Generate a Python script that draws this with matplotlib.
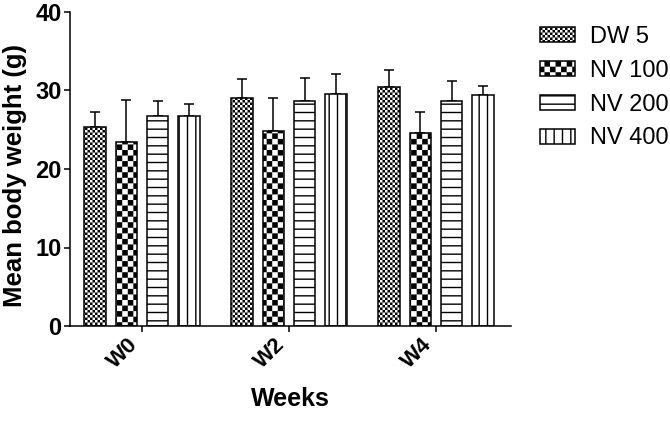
import numpy as np
import matplotlib
matplotlib.use('Agg')
import matplotlib.pyplot as plt
import matplotlib.hatch as mhatch
import matplotlib.transforms as mtransforms
from matplotlib.path import Path

weeks = ['W0', 'W2', 'W4']
groups = ['DW 5', 'NV 100', 'NV 200', 'NV 400']

dw5 = [25.3, 29.1, 30.5]
nv100 = [23.5, 24.9, 24.6]
nv200 = [26.7, 28.6, 28.7]
nv400 = [26.7, 29.6, 29.4]

dw5_sd = [2.0, 2.4, 2.1]
nv100_sd = [5.3, 4.1, 2.7]
nv200_sd = [2.0, 3.0, 2.5]
nv400_sd = [1.6, 2.5, 1.2]

plt.rcParams['font.family'] = ['Liberation Sans', 'DejaVu Sans']
plt.rcParams['hatch.linewidth'] = 1.0


def checker_hatch(char, cells):
    # filled checkerboard squares as a hatch pattern
    class Checker(mhatch.HatchPatternBase):
        def __init__(self, hatch, density):
            self.squares = [(i, j) for i in range(cells) for j in range(cells)
                            if (i + j) % 2 == 0]
            self.num_vertices = 5 * len(self.squares) if char in hatch else 0

        def set_vertices_and_codes(self, vertices, codes):
            s = 1.0 / cells
            d = plt.rcParams['hatch.linewidth'] / 2 / 72  # stroke grows the square
            k = 0
            for i, j in self.squares:
                x0, y0 = i * s + d, j * s + d
                x1, y1 = (i + 1) * s - d, (j + 1) * s - d
                vertices[k:k + 5] = [(x0, y0), (x1, y0), (x1, y1), (x0, y1), (x0, y0)]
                codes[k:k + 5] = [Path.MOVETO, Path.LINETO, Path.LINETO,
                                  Path.LINETO, Path.CLOSEPOLY]
                k += 5
    return Checker


mhatch._hatch_types = [t for t in mhatch._hatch_types
                       if t not in (mhatch.LargeCircles, mhatch.Stars)]
mhatch._hatch_types += [checker_hatch('O', 18), checker_hatch('*', 40)]

series = [dw5, nv100, nv200, nv400]
errors = [dw5_sd, nv100_sd, nv200_sd, nv400_sd]
hatches = ['*', 'O', '--', '||']

fig = plt.figure(figsize=(6.7, 4.22), dpi=100)
ax = fig.add_axes([70 / 670, 1 - 326 / 422, 441 / 670, 314 / 422])

x = np.arange(len(weeks))
width = 0.146
step = 0.214
for k in range(len(series)):
    pos = x + (k - 1.5) * step
    ax.errorbar(pos, series[k], yerr=[np.zeros(len(x)), errors[k]], fmt='none',
                ecolor='black', elinewidth=1.1, capsize=3.6, capthick=1.1, zorder=1)
    ax.bar(pos, series[k], width, color='white', edgecolor='black', linewidth=1.1,
           hatch=hatches[k], label=groups[k], zorder=2)

ax.set_xlim(-0.49, 2.51)
ax.set_ylim(0, 40)
ax.set_yticks([0, 10, 20, 30, 40])
ax.set_xticks(x)
ax.set_xticklabels(weeks, rotation=45, ha='right', fontsize=16, fontweight='bold')
shift = mtransforms.ScaledTranslation(0.08, -0.03, fig.dpi_scale_trans)
for lab in ax.get_xticklabels():
    lab.set_transform(lab.get_transform() + shift)
for lab in ax.get_yticklabels():
    lab.set_fontsize(17)
    lab.set_fontweight('bold')

for side in ['top', 'right']:
    ax.spines[side].set_visible(False)
for side in ['left', 'bottom']:
    ax.spines[side].set_linewidth(1.1)
ax.tick_params(axis='both', direction='out', width=1.1, length=4, pad=2)

ax.set_ylabel('Mean body weight (g)', fontsize=18.5, fontweight='bold')
ax.yaxis.set_label_coords(-0.098, 0.48)
ax.set_xlabel('Weeks', fontsize=18, fontweight='bold', labelpad=10)

fig.legend(loc='upper left', bbox_to_anchor=(540 / 670, 1 - 26 / 422), frameon=False,
           fontsize=17, handlelength=1.48, handleheight=0.6, handletextpad=0.62,
           labelspacing=0.5, borderpad=0, borderaxespad=0)

fig.savefig('out.png', dpi=100)
